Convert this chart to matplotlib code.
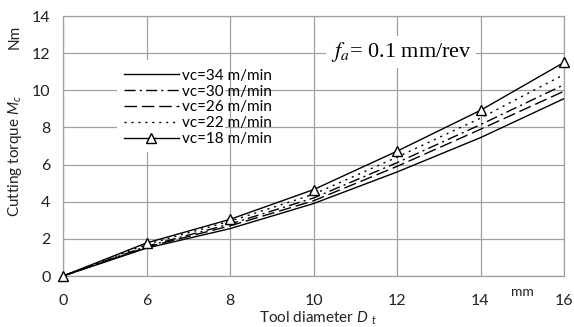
import matplotlib
matplotlib.use('Agg')
import matplotlib.pyplot as plt
from matplotlib.patches import Rectangle

diameters = ['0', '6', '8', '10', '12', '14', '16']
vc34 = [0, 1.50, 2.55, 3.90, 5.60, 7.45, 9.55]
vc30 = [0, 1.60, 2.80, 4.20, 6.10, 8.15, 10.30]
vc26 = [0, 1.55, 2.70, 4.05, 5.90, 7.90, 9.95]
vc22 = [0, 1.70, 2.95, 4.40, 6.40, 8.50, 10.85]
vc18 = [0, 1.78, 3.05, 4.65, 6.72, 8.92, 11.50]
series_labels = ['vc=34 m/min', 'vc=30 m/min', 'vc=26 m/min', 'vc=22 m/min', 'vc=18 m/min']
yticks = [0, 2, 4, 6, 8, 10, 12, 14]

plt.rcParams['font.family'] = ['Lato', 'DejaVu Sans']
plt.rcParams['mathtext.fontset'] = 'custom'
plt.rcParams['mathtext.rm'] = 'Lato'
plt.rcParams['mathtext.it'] = 'Lato:italic'

W, H = 574, 327
fig = plt.figure(figsize=(W / 100, H / 100), dpi=100)
ax = fig.add_axes([63 / W, 1 - 276 / H, (564 - 63) / W, (276 - 16) / H])

x = list(range(len(diameters)))
lw = 1.0
ax.plot(x, vc34, color='black', lw=lw, ls='-', label=series_labels[0], zorder=3)
ax.plot(x, vc30, color='black', lw=lw, ls=(0, (8, 3, 1.5, 3)), label=series_labels[1], zorder=3)
ax.plot(x, vc26, color='black', lw=lw, ls=(0, (9, 3.5)), label=series_labels[2], zorder=3)
ax.plot(x, vc22, color='black', lw=lw, ls=(0, (1.5, 3.5)), label=series_labels[3], zorder=3)
ax.plot(x, vc18, color='black', lw=lw, ls='-', marker='^', ms=7, mfc='white', mec='black',
        mew=1.0, label=series_labels[4], zorder=4, clip_on=False)

ax.set_xlim(0, len(diameters) - 1)
ax.set_ylim(0, 14)
ax.set_xticks(x)
ax.set_xticklabels(diameters)
ax.set_yticks(yticks)
ax.grid(True, color='#a0a0a0', lw=0.9)
for s in ax.spines.values():
    s.set_color('#a0a0a0')
    s.set_linewidth(0.9)
ax.tick_params(length=0, labelsize=11.5, colors='#222222')
ax.tick_params(axis='x', pad=13)
ax.tick_params(axis='y', pad=9)

# white background behind legend
ax.add_patch(Rectangle((117 / W, 1 - 152 / H), (225 - 117) / W, (152 - 60) / H,
                       transform=fig.transFigure, facecolor='white', edgecolor='none', zorder=2))
leg = ax.legend(loc='upper left', bbox_to_anchor=(113 / W, 1 - 58 / H),
                bbox_transform=fig.transFigure, frameon=False, fontsize=11,
                handlelength=3.6, handletextpad=0.2, labelspacing=0.12, borderpad=0.2)
leg.set_zorder(5)

fig.text(401 / W, 1 - 52 / H, r'$f_a$= 0.1 mm/rev', family='Liberation Serif', fontsize=16,
         math_fontfamily='stix', ha='center', va='center',
         bbox=dict(facecolor='white', edgecolor='none', pad=3))

fig.text(15 / W, 1 - 156 / H, r'Cutting torque $M_c$', rotation=90, fontsize=11,
         ha='center', va='center', color='#222222')
fig.text(15 / W, 1 - 37 / H, 'Nm', rotation=90, fontsize=11, ha='center', va='center',
         color='#222222')
fig.text(522 / W, 1 - 292 / H, 'mm', fontsize=10, ha='center', va='center', color='#222222')
fig.text(318 / W, 1 - 318 / H, r'Tool diameter $D\ _t$', fontsize=11, ha='center',
         va='center', color='#222222')

fig.savefig('out.png', dpi=100)
